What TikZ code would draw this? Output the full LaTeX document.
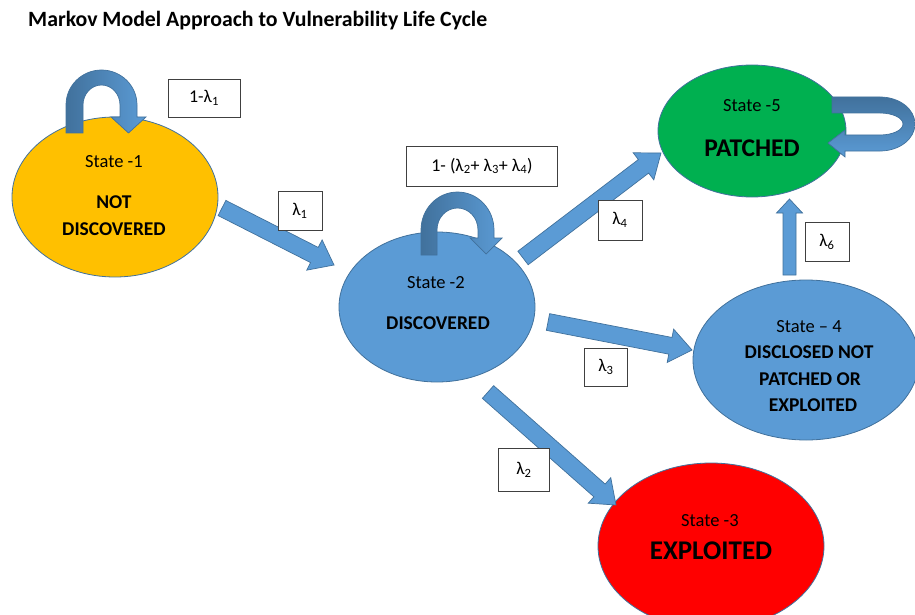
\documentclass[tikz,border=0pt]{standalone}
\usepackage{fontspec}
\setmainfont{Carlito}
\usetikzlibrary{shapes.geometric,calc}
\definecolor{blu}{HTML}{5B9BD5}
\definecolor{bord}{HTML}{41719C}
\definecolor{dblu}{HTML}{41719C}
\definecolor{org}{HTML}{FFC000}
\definecolor{grn}{HTML}{00B050}
\definecolor{rd}{HTML}{FF0000}
\tikzset{
  statebox/.style={ellipse, draw=bord, line width=0.8pt, inner sep=0pt},
  arrowbody/.style={fill=blu, draw=bord, line width=0.7pt, line join=miter},
  loopbody/.style={draw=bord, line width=0.7pt},
  lbl/.style={draw=black!75, fill=white, line width=0.7pt, inner sep=0pt, font=\fontsize{18}{21}\selectfont},
  st/.style={anchor=base, font=\fontsize{18.5}{21}\selectfont},
  big/.style={anchor=base, font=\fontsize{19.5}{22}\selectfont\bfseries},
  huge/.style={anchor=base, font=\fontsize{25.5}{28}\selectfont\bfseries}
}
\newcommand\blockarrow[5]{%
  \path ($(#2)!#5!(#1)$) coordinate (hb);
  \filldraw[arrowbody] ($(#1)!#3!90:(#2)$) -- ($(hb)!#3!-90:(#1)$) -- ($(hb)!#4!-90:(#1)$) -- (#2)
    -- ($(hb)!#4!90:(#1)$) -- ($(hb)!#3!90:(#1)$) -- ($(#1)!#3!-90:(#2)$) -- cycle;}
\begin{document}
\begin{tikzpicture}[x=1pt,y=-1pt]
\useasboundingbox (0,0) rectangle (915,615);

% title
\node[anchor=base west, font=\fontsize{21.8}{24}\selectfont\bfseries, inner sep=0pt] (title) at (28,27) {Markov Model Approach to Vulnerability Life Cycle};

% states
\node[statebox, fill=org, minimum width=206pt, minimum height=160pt] (s1) at (115,197) {};
\node[statebox, fill=blu, minimum width=196pt, minimum height=150pt] (s2) at (437,307) {};
\node[statebox, fill=grn, minimum width=188pt, minimum height=132pt] (s5) at (752,131) {};
\node[statebox, fill=blu, minimum width=226pt, minimum height=160pt] (s4) at (806,360) {};
\node[statebox, fill=rd, minimum width=226pt, minimum height=166pt] (s3) at (711,546) {};

% state texts
\node[st] (t1a) at (114,167) {State -1};
\node[big] (t1b) at (114,208) {NOT};
\node[big] (t1c) at (114,235) {DISCOVERED};
\node[st] (t2a) at (436,288) {State -2};
\node[big] (t2b) at (438,329) {DISCOVERED};
\node[st] (t5a) at (752,112) {State -5};
\node[huge] (t5b) at (752,157) {PATCHED};
\node[st] (t4a) at (809,332) {State -- 4};
\node[big] (t4b) at (809,358) {DISCLOSED NOT};
\node[big] (t4c) at (810,385) {PATCHED OR};
\node[big] (t4d) at (813,411) {EXPLOITED};
\node[st] (t3a) at (710,526) {State -3};
\node[anchor=base, font=\fontsize{27}{30}\selectfont\bfseries] (t3b) at (711,559) {EXPLOITED};

% transition arrows
\coordinate (a12t) at (222,208); \coordinate (a12h) at (334,265);
\blockarrow{a12t}{a12h}{8.5pt}{17pt}{22pt}
\coordinate (a25t) at (523,258); \coordinate (a25h) at (661,153);
\blockarrow{a25t}{a25h}{8.5pt}{17pt}{22pt}
\coordinate (a24t) at (548,322); \coordinate (a24h) at (692,350);
\blockarrow{a24t}{a24h}{8.5pt}{17pt}{22pt}
\coordinate (a23t) at (488,392); \coordinate (a23h) at (616,505);
\blockarrow{a23t}{a23h}{8.5pt}{17pt}{22pt}
\coordinate (a45t) at (789.5,275); \coordinate (a45h) at (789.5,199);
\blockarrow{a45t}{a45h}{6.5pt}{13pt}{14pt}

% self loops
\path[loopbody, left color=dblu, right color=blu]
  (66,133) -- (66,105) arc[start angle=180, end angle=360, x radius=35.5, y radius=35]
  -- (137,117) -- (146,117) -- (128.5,133) -- (111,117) -- (120,117) -- (120,105)
  arc[start angle=0, end angle=-180, x radius=18.5, y radius=20] -- (83,133) -- cycle;
\path[loopbody, left color=dblu, right color=blu]
  (421,255) -- (421,230) arc[start angle=180, end angle=360, x radius=36.5, y radius=38]
  -- (494,238) -- (502,238) -- (486,254) -- (470,238) -- (478,238) -- (478,230)
  arc[start angle=0, end angle=-180, x radius=20.5, y radius=22] -- (437,255) -- cycle;
\path[loopbody, top color=dblu, bottom color=blu]
  (832,97) -- (880,97) arc[start angle=-90, end angle=90, x radius=35, y radius=27]
  -- (845,151) -- (845,157) -- (828,143) -- (845,130) -- (845,135) -- (880,135)
  arc[start angle=90, end angle=-90, x radius=23, y radius=11] -- (832,113) -- cycle;

% labels
\node[lbl, minimum width=72pt, minimum height=38pt] (l11) at (204,98) {1-λ\textsubscript{1}};
\node[lbl, minimum width=44pt, minimum height=39pt] (l1) at (300,211) {λ\textsubscript{1}};
\node[lbl, minimum width=151pt, minimum height=40pt] (l234) at (482,166) {1- (λ\textsubscript{2}+ λ\textsubscript{3}+ λ\textsubscript{4})};
\node[lbl, minimum width=44pt, minimum height=40pt] (l4) at (620,220) {λ\textsubscript{4}};
\node[lbl, minimum width=43pt, minimum height=38pt] (l3) at (606,367) {λ\textsubscript{3}};
\node[lbl, minimum width=51pt, minimum height=43pt] (l2) at (524,470) {λ\textsubscript{2}};
\node[lbl, minimum width=44pt, minimum height=39pt] (l6) at (827,242) {λ\textsubscript{6}};
\end{tikzpicture}
\end{document}
